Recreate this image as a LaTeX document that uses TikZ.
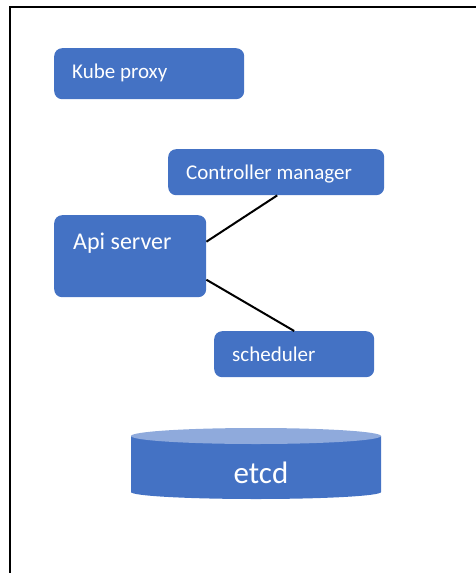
\documentclass[tikz,border=0pt]{standalone}
\usepackage{fontspec}
\setmainfont{Carlito}
\definecolor{boxblue}{HTML}{4472C4}
\definecolor{toplight}{HTML}{8FAADC}
\begin{document}
\begin{tikzpicture}[x=1pt,y=-1pt,
  box/.style={fill=boxblue, rounded corners=8pt, inner sep=0pt, anchor=north west},
  lbl/.style={text=white, anchor=base west, inner sep=0pt, font=\fontsize{21}{25}\selectfont},
  conn/.style={black, line width=2pt}]
\useasboundingbox (0,0) rectangle (475,573);
\draw[line width=2.3pt] (10,7) rectangle (490,590);
% boxes
\node[box, minimum width=190pt, minimum height=51pt] (kp) at (54,48) {};
\node[lbl] (kpt) at (72,78) {Kube proxy};
\node[box, minimum width=216pt, minimum height=46pt] (cm) at (168,149) {};
\node[lbl] (cmt) at (186,179) {Controller manager};
\node[box, minimum width=152pt, minimum height=82pt] (api) at (54,215) {};
\node[lbl, font=\fontsize{24}{28}\selectfont] (apit) at (73,249) {Api server};
\node[box, minimum width=160pt, minimum height=46pt] (sch) at (214,331) {};
\node[lbl] (scht) at (232,361) {scheduler};
% etcd cylinder
\fill[boxblue] (131,436) -- (131,492) arc[start angle=180, end angle=360, x radius=125, y radius=-7] -- (381,436) -- cycle;
\fill[toplight] (256,436) ellipse[x radius=125, y radius=8];
\node[lbl, anchor=base, font=\fontsize{31}{36}\selectfont] (etcd) at (261,483) {etcd};
% connectors
\draw[conn] ([yshift=14.5pt]api.east) -- ([xshift=1pt]cm.south);
\draw[conn] ([yshift=-23.5pt]api.east) -- (sch.north);
\end{tikzpicture}
\end{document}
